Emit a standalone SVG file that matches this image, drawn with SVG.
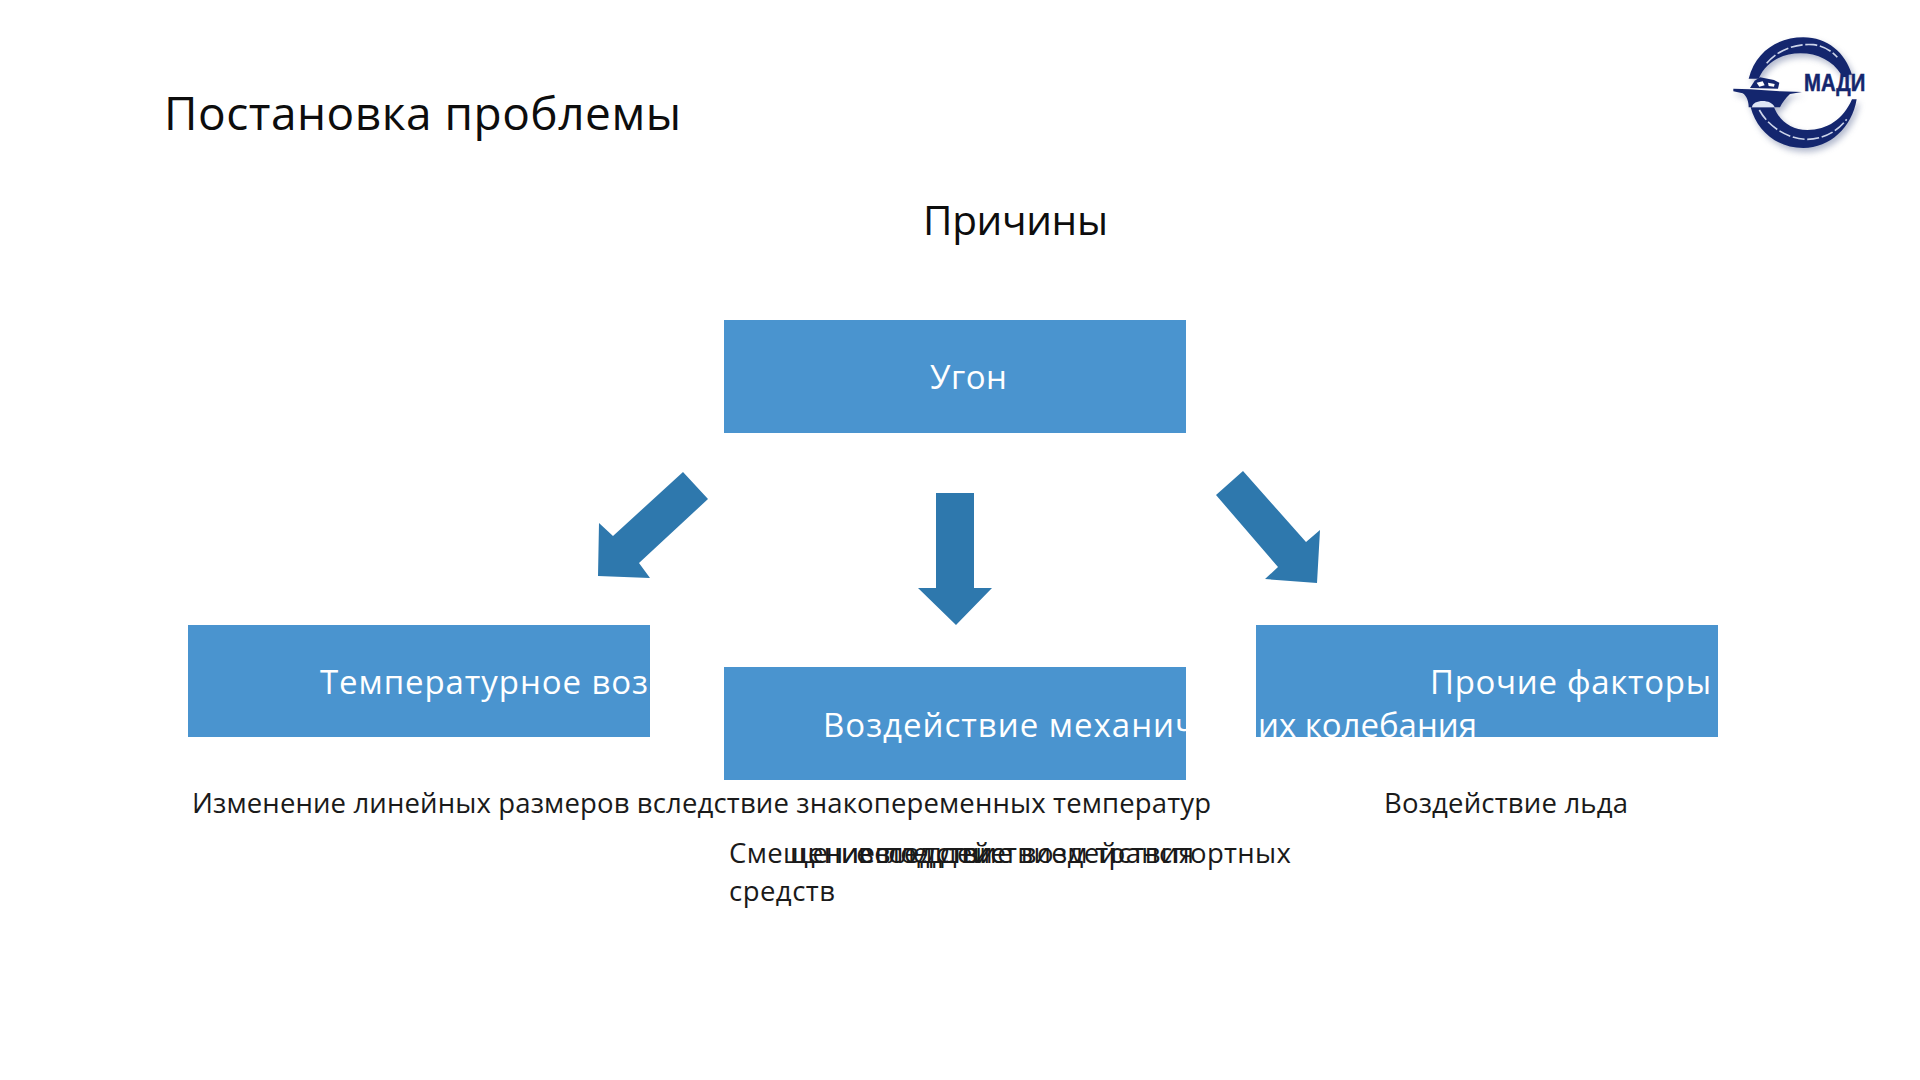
<svg xmlns="http://www.w3.org/2000/svg" width="1920" height="1080" viewBox="0 0 1920 1080">
<style>
text{font-family:"Open Sans","Noto Sans","Liberation Sans",sans-serif}
.box{fill:#4a94cf}
.arrow{fill:#2e78ad}
.lab{fill:#fff;font-size:33px}
.txt{fill:#1a1a1a;font-size:27.5px}
.head{fill:#0d0d0d}
.navy{fill:#14266e}
.strip{fill:none;stroke:#cdd5ea;stroke-width:5;stroke-dasharray:36 8}
</style>
<defs>
<filter id="soft" x="-30%" y="-30%" width="160%" height="160%"><feGaussianBlur stdDeviation="9"/></filter>
<g id="ring">
<path d="M146,176C168,92 236,52 310,52C382,52 436,98 456,164L424,164C398,122 352,100 302,100C244,100 198,126 176,176Z"/>
<path d="M152,262L222,262C240,305 275,330 322,330C382,330 430,298 456,238L470,238C456,322 390,384 310,384C230,384 170,332 152,262Z"/>
<path d="M100,206L150,208L240,214L306,216L270,222C256,234 246,250 240,262L146,262C146,244 140,228 128,220L100,214Z"/>
</g>
</defs>
<rect width="1920" height="1080" fill="#fff"/>
<text id="title" class="head" x="164" y="130" font-size="46" textLength="517">Постановка проблемы</text>
<text id="subtitle" class="head" x="923" y="235" font-size="40.5" textLength="185">Причины</text>
<g id="logo" transform="translate(1700 20) scale(.3333)">
<use href="#ring" fill="#9aa3bd" opacity=".75" filter="url(#soft)" transform="translate(8 12)"/>
<use href="#ring" class="navy"/>
<path class="strip" d="M200,130C235,88 290,70 340,74C370,78 395,92 412,112"/>
<path class="strip" d="M178,270C205,320 265,358 320,358C365,358 410,338 440,298"/>
<path d="M156,262C158,238 214,236 224,262Z" fill="#dfe6f5"/>
<path d="M150,204L164,182L180,172L222,180L238,188L234,206Z" class="navy"/>
<path d="M170,188L188,184L194,196L178,200ZM204,188L224,192L222,200L206,198Z" fill="#fff"/>
<text x="312" y="214" font-size="70" font-weight="700" class="navy" stroke="#14266e" stroke-width="1.5" style="font-family:'Liberation Sans Narrow','Liberation Sans',sans-serif" textLength="184" lengthAdjust="spacingAndGlyphs">МАДИ</text>
</g>
<g id="node-ugon">
<rect class="box" x="724" y="320" width="462" height="113"/>
<text class="lab" x="930" y="389" textLength="77">Угон</text>
</g>
<g id="node-temp">
<rect class="box" x="188" y="625" width="462" height="112"/>
<text class="lab" x="320" y="694" textLength="328">Температурное воз</text>
</g>
<g id="node-other">
<rect class="box" x="1256" y="625" width="462" height="112"/>
<text class="lab" x="1430" y="694" textLength="281">Прочие факторы</text>
</g>
<g id="node-mech">
<rect class="box" x="724" y="667" width="462" height="113"/>
<text class="lab" x="823" y="737" textLength="372">Воздействие механич</text>
<text class="lab" x="1258" y="737" textLength="219">их колебания</text>
</g>
<g id="connectors">
<polygon class="arrow" points="683,472 708,499 639,563 650,578 598,576 599,523 613,536"/>
<polygon class="arrow" points="936,493 974,493 974,588 992,588 956,625 918,588 936,588"/>
<polygon class="arrow" points="1243,471 1216,495 1278,567 1265,579 1317,583 1320,530 1306,542"/>
</g>
<g id="notes">
<text class="txt" x="192" y="813" textLength="1019">Изменение линейных размеров вследствие знакопеременных температур</text>
<text class="txt" x="1384" y="813" textLength="244">Воздействие льда</text>
<text class="txt" x="729" y="863" textLength="562">Смещение под действием транспортных</text>
<text class="txt" x="729" y="901" textLength="106">средств</text>
<text class="txt" x="790" y="863" textLength="216">щение вследствие</text>
<text class="txt" x="858" y="863" textLength="336">вследствие воздействия</text>
</g>
</svg>
